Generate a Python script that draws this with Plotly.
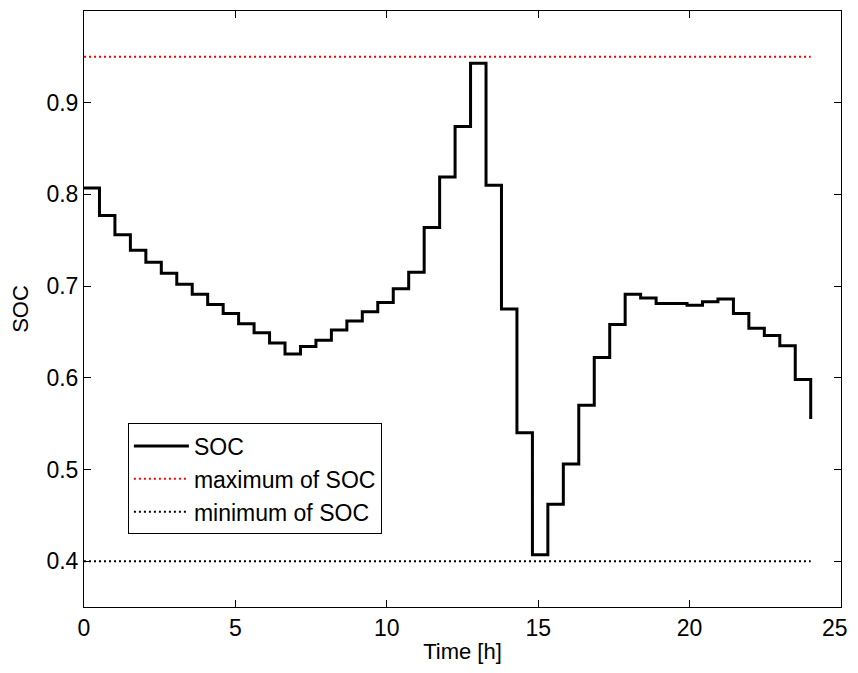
import plotly.graph_objects as go

# sample times [h] and state of charge
hours = [0.0, 0.511, 1.021, 1.532, 2.043, 2.553, 3.064, 3.574, 4.085, 4.596,
         5.106, 5.617, 6.128, 6.638, 7.149, 7.660, 8.170, 8.681, 9.191, 9.702,
         10.213, 10.723, 11.234, 11.745, 12.255, 12.766, 13.277, 13.787, 14.298, 14.809,
         15.319, 15.830, 16.340, 16.851, 17.362, 17.872, 18.383, 18.894, 19.404, 19.915,
         20.426, 20.936, 21.447, 21.957, 22.468, 22.979, 23.489, 24.0]
soc = [0.807, 0.777, 0.756, 0.739, 0.726, 0.714, 0.702, 0.691, 0.680, 0.670,
       0.659, 0.649, 0.638, 0.626, 0.634, 0.641, 0.652, 0.662, 0.672, 0.682,
       0.697, 0.715, 0.764, 0.819, 0.874, 0.943, 0.810, 0.675, 0.540, 0.407,
       0.462, 0.506, 0.570, 0.622, 0.658, 0.691, 0.687, 0.681, 0.681, 0.679,
       0.683, 0.686, 0.670, 0.654, 0.646, 0.635, 0.598, 0.555]

soc_max = 0.95
soc_min = 0.4
limit_x = [0, 24]

xticks = [0, 5, 10, 15, 20, 25]
xticklabels = ["0", "5", "10", "15", "20", ""]  # last one drawn as annotation (page edge)
yticks = [0.4, 0.5, 0.6, 0.7, 0.8, 0.9]

font = "Liberation Sans, Arial, sans-serif"

fig = go.Figure()
fig.add_trace(go.Scatter(x=hours, y=soc, mode="lines", name="SOC",
                         line=dict(color="black", width=3, shape="hv")))
fig.add_trace(go.Scatter(x=limit_x, y=[soc_max, soc_max], mode="lines",
                         name="maximum of SOC",
                         line=dict(color="red", width=2, dash="2px,3px")))
fig.add_trace(go.Scatter(x=limit_x, y=[soc_min, soc_min], mode="lines",
                         name="minimum of SOC",
                         line=dict(color="black", width=2, dash="2px,3px")))

axis_style = dict(showline=True, linecolor="black", linewidth=1, mirror="ticks",
                  ticks="inside", ticklen=7, tickcolor="black", showgrid=False,
                  zeroline=False, automargin=False,
                  tickfont=dict(size=23, color="black"))

fig.update_xaxes(range=[0, 25], tickvals=xticks, ticktext=xticklabels,
                 title=dict(text="Time [h]", font=dict(size=22, color="black"), standoff=4),
                 **axis_style)
fig.update_yaxes(range=[0.35, 1.0], tickvals=yticks, tickformat=".1f",
                 title=dict(text="SOC", font=dict(size=22, color="black"), standoff=12),
                 **axis_style)

fig.add_annotation(x=xticks[-1], y=0, xref="x", yref="paper", text=str(xticks[-1]),
                   showarrow=False, xanchor="right", yanchor="middle",
                   xshift=9, yshift=-21, font=dict(size=23, color="black"))

# page body has an 8px margin, so the figure is sized/offset to compensate
fig.update_layout(
    width=850, height=657,
    margin=dict(l=76, r=17, t=3, b=58),
    plot_bgcolor="white", paper_bgcolor="white",
    font=dict(family=font, size=22, color="black"),
    legend=dict(x=0.058, y=0.308, xanchor="left", yanchor="top",
                bgcolor="white", bordercolor="black", borderwidth=1,
                font=dict(size=23), tracegroupgap=0, itemwidth=55),
)

fig.write_html("out.html")
